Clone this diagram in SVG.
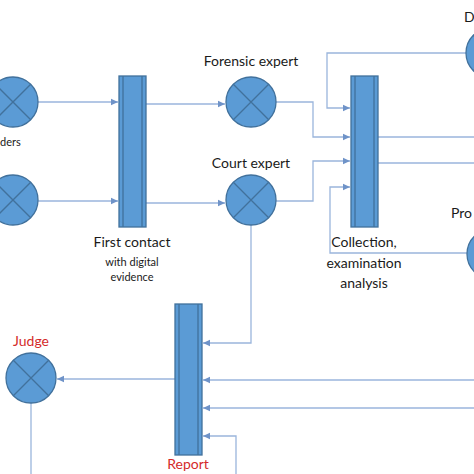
<svg xmlns="http://www.w3.org/2000/svg" width="474" height="474" viewBox="0 0 474 474">
<style>
.nd{fill:#5b9bd5;stroke:#41719c;stroke-width:1.3}
.x{stroke:#41719c;stroke-width:1.3;fill:none}
.bar{fill:#5b9bd5;stroke:#41719c;stroke-width:1.3}
.cn{fill:none;stroke:#9ab5dc;stroke-width:1.3}
.t{font-family:Lato,"Liberation Sans",sans-serif;fill:#1a1a1a}
.big{font-size:14px}
.sm{font-size:11px}
.red{fill:#d42a2a}
</style>
<defs>
<marker id="ah" markerUnits="userSpaceOnUse" markerWidth="8" markerHeight="8" refX="7" refY="4" orient="auto">
<path d="M0,0.8 L7,4 L0,7.2 z" fill="#6f93c8"/>
</marker>
</defs>
<rect width="474" height="474" fill="#fff"/>
<g id="connectors">
<path class="cn" d="M38 102 H118" marker-end="url(#ah)"/>
<path class="cn" d="M38 201 H118" marker-end="url(#ah)"/>
<path class="cn" d="M146 104 H225" marker-end="url(#ah)"/>
<path class="cn" d="M146 203 H225" marker-end="url(#ah)"/>
<path class="cn" d="M466 53 H327 V108 H350" marker-end="url(#ah)"/>
<path class="cn" d="M276 102 H313 V137 H350" marker-end="url(#ah)"/>
<path class="cn" d="M276 201 H313 V161 H350" marker-end="url(#ah)"/>
<path class="cn" d="M467 253 H330 V187 H350" marker-end="url(#ah)"/>
<path class="cn" d="M378 137 H474"/>
<path class="cn" d="M378 163 H474"/>
<path class="cn" d="M251 225 V343 H203" marker-end="url(#ah)"/>
<path class="cn" d="M474 380 H203" marker-end="url(#ah)"/>
<path class="cn" d="M474 408 H203" marker-end="url(#ah)"/>
<path class="cn" d="M236 474 V436 H203" marker-end="url(#ah)"/>
<path class="cn" d="M175 379 H57" marker-end="url(#ah)"/>
<path class="cn" d="M31 403 V474"/>
</g>
<g id="responder1">
<circle class="nd" cx="13" cy="102" r="25"/>
<path class="x" d="M-4.7 84.3 L30.7 119.7 M30.7 84.3 L-4.7 119.7"/>
<text class="t sm" x="0" y="146">ders</text>
</g>
<g id="responder2">
<circle class="nd" cx="13" cy="200" r="25"/>
<path class="x" d="M-4.7 182.3 L30.7 217.7 M30.7 182.3 L-4.7 217.7"/>
</g>
<g id="first-contact">
<rect class="bar" x="119" y="76" width="27" height="151"/>
<path class="x" d="M123 76 V227 M142 76 V227"/>
<text class="t big" x="132" y="247" text-anchor="middle">First contact</text>
<text class="t sm" x="132" y="266" text-anchor="middle">with digital</text>
<text class="t sm" x="132" y="281" text-anchor="middle">evidence</text>
</g>
<g id="forensic-expert">
<circle class="nd" cx="251" cy="102" r="25"/>
<path class="x" d="M233.3 84.3 L268.7 119.7 M268.7 84.3 L233.3 119.7"/>
<text class="t big" x="251" y="66" text-anchor="middle">Forensic expert</text>
</g>
<g id="court-expert">
<circle class="nd" cx="251" cy="200" r="25"/>
<path class="x" d="M233.3 182.3 L268.7 217.7 M268.7 182.3 L233.3 217.7"/>
<text class="t big" x="251" y="168" text-anchor="middle">Court expert</text>
</g>
<g id="collection">
<rect class="bar" x="351" y="76" width="27" height="151"/>
<path class="x" d="M355 76 V227 M374 76 V227"/>
<text class="t big" x="364" y="247" text-anchor="middle">Collection,</text>
<text class="t big" x="364" y="268" text-anchor="middle">examination</text>
<text class="t big" x="364" y="288" text-anchor="middle">analysis</text>
</g>
<g id="d-node">
<circle class="nd" cx="491" cy="53" r="25"/>
<path class="x" d="M473.3 35.3 L508.7 70.7 M508.7 35.3 L473.3 70.7"/>
<text class="t big" x="464" y="22">D</text>
</g>
<g id="pro-node">
<circle class="nd" cx="492" cy="254" r="25"/>
<path class="x" d="M474.3 236.3 L509.7 271.7 M509.7 236.3 L474.3 271.7"/>
<text class="t big" x="451" y="218">Pro</text>
</g>
<g id="report">
<rect class="bar" x="175" y="304" width="27" height="151"/>
<path class="x" d="M179 304 V455 M198 304 V455"/>
<text class="t big red" x="188" y="469" text-anchor="middle">Report</text>
</g>
<g id="judge">
<circle class="nd" cx="31" cy="378" r="25"/>
<path class="x" d="M13.3 360.3 L48.7 395.7 M48.7 360.3 L13.3 395.7"/>
<text class="t big red" x="31" y="346" text-anchor="middle">Judge</text>
</g>
</svg>
